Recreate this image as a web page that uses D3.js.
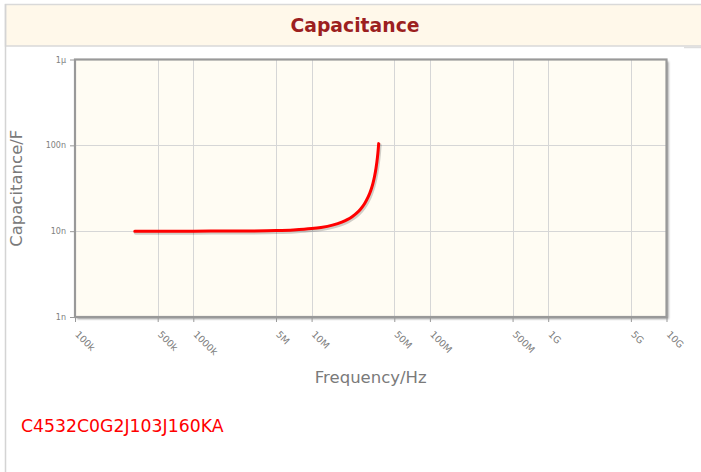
<!DOCTYPE html>
<html>
<head>
<meta charset="utf-8">
<script src="https://cdn.jsdelivr.net/npm/d3@7"></script>
<style>
  html, body { margin: 0; padding: 0; background: #fff; }
  svg { display: block; font-family: "DejaVu Sans", sans-serif; }
</style>
</head>
<body>
<svg id="chart" width="701" height="472"></svg>
<script>
// ---- data ----
const chartTitle = "Capacitance";
const partNumber = "C4532C0G2J103J160KA";
const xTitle = "Frequency/Hz";
const yTitle = "Capacitance/F";

const xTickValues = [1e5, 5e5, 1e6, 5e6, 1e7, 5e7, 1e8, 5e8, 1e9, 5e9, 1e10];
const xTickLabels = ["100k", "500k", "1000k", "5M", "10M", "50M", "100M", "500M", "1G", "5G", "10G"];
const yTickValues = [1e-9, 1e-8, 1e-7, 1e-6];
const yTickLabels = ["1n", "10n", "100n", "1µ"];

// frequency (Hz) and capacitance (F)
const freq = [3.2e5, 5e5, 1e6, 2e6, 3e6, 5e6, 7e6, 1e7, 1.2e7, 1.5e7, 1.8e7, 2.0e7, 2.2e7, 2.4e7,
              2.6e7, 2.8e7, 3.0e7, 3.1e7, 3.2e7, 3.3e7, 3.4e7, 3.5e7, 3.6e7, 3.65e7, 3.69e7];
const cap  = [10.0e-9, 10.0e-9, 10.01e-9, 10.03e-9, 10.06e-9, 10.17e-9, 10.34e-9, 10.71e-9, 11.06e-9,
              11.76e-9, 12.74e-9, 13.62e-9, 14.74e-9, 16.2e-9, 18.15e-9, 20.87e-9, 24.86e-9, 27.65e-9,
              31.27e-9, 36.15e-9, 43.08e-9, 53.68e-9, 71.89e-9, 86.96e-9, 104.7e-9];

// ---- layout ----
const svg = d3.select("#chart");
const plot = { left: 75, right: 666.5, top: 59.5, bottom: 317 };

// title band
svg.append("rect").attr("x", 5.5).attr("y", 4.5).attr("width", 700).attr("height", 41.5)
  .attr("fill", "#fff8ea").attr("stroke", "#d9d9d9").attr("stroke-width", 1.5);
svg.append("line").attr("x1", 5.5).attr("x2", 5.5).attr("y1", 4).attr("y2", 472)
  .attr("stroke", "#d4d4d4").attr("stroke-width", 1.5);
svg.append("line").attr("x1", 684).attr("x2", 701).attr("y1", 47.5).attr("y2", 47.5)
  .attr("stroke", "#dddddd").attr("stroke-width", 1.5);
svg.append("text").attr("x", 355).attr("y", 31.5).attr("text-anchor", "middle")
  .attr("font-size", 18.8).attr("font-weight", "bold").attr("fill", "#9c1f1f").text(chartTitle);

const x = d3.scaleLog().domain([1e5, 1e10]).range([plot.left, plot.right]);
const y = d3.scaleLog().domain([1e-9, 1e-6]).range([plot.bottom, plot.top]);

// defs: shadow filter
const defs = svg.append("defs");
const f = defs.append("filter").attr("id", "bshadow").attr("x", "-5%").attr("y", "-5%")
  .attr("width", "110%").attr("height", "110%");
f.append("feGaussianBlur").attr("in", "SourceAlpha").attr("stdDeviation", 1.2);
f.append("feOffset").attr("dx", 2).attr("dy", 2).attr("result", "ob");
f.append("feComponentTransfer").append("feFuncA").attr("type", "linear").attr("slope", 0.4);
const fm = f.append("feMerge");
fm.append("feMergeNode");
fm.append("feMergeNode").attr("in", "SourceGraphic");

// plot background with shadow
svg.append("rect").attr("x", plot.left).attr("y", plot.top)
  .attr("width", plot.right - plot.left).attr("height", plot.bottom - plot.top)
  .attr("fill", "#fffcf3").attr("filter", "url(#bshadow)");

// grid lines
const grid = svg.append("g");
grid.selectAll("line.vx").data(xTickValues.slice(1, -1)).enter().append("line")
  .attr("x1", d => Math.round(x(d)) + 0.5).attr("x2", d => Math.round(x(d)) + 0.5)
  .attr("y1", plot.top).attr("y2", plot.bottom)
  .attr("stroke", "#d6d6d6").attr("stroke-width", 1);
grid.selectAll("line.hy").data(yTickValues.slice(1, -1)).enter().append("line")
  .attr("y1", d => Math.round(y(d)) + 0.5).attr("y2", d => Math.round(y(d)) + 0.5)
  .attr("x1", plot.left).attr("x2", plot.right)
  .attr("stroke", "#d6d6d6").attr("stroke-width", 1);

// axes
const xAxis = d3.axisBottom(x).tickValues(xTickValues)
  .tickFormat((d, i) => xTickLabels[i]).tickSize(5).tickSizeOuter(0);
const gx = svg.append("g").attr("transform", `translate(0,${plot.bottom})`).call(xAxis);
gx.select(".domain").remove();
gx.selectAll(".tick line").attr("stroke", "#999");
gx.selectAll(".tick text")
  .attr("font-family", "DejaVu Sans, sans-serif").attr("font-size", 9.5).attr("fill", "#808080")
  .attr("text-anchor", "start").attr("dy", null).attr("y", null)
  .attr("transform", "translate(-1,18) rotate(45)");

const yAxis = d3.axisLeft(y).tickValues(yTickValues)
  .tickFormat((d, i) => yTickLabels[i]).tickSize(5).tickSizeOuter(0);
const gy = svg.append("g").attr("transform", `translate(${plot.left},0)`).call(yAxis);
gy.select(".domain").remove();
gy.selectAll(".tick line").attr("stroke", "#999");
gy.selectAll(".tick text")
  .attr("font-family", "DejaVu Sans, sans-serif").attr("font-size", 8).attr("fill", "#808080")
  .attr("x", -9);

// plot border
svg.append("rect").attr("x", plot.left).attr("y", plot.top)
  .attr("width", plot.right - plot.left).attr("height", plot.bottom - plot.top)
  .attr("fill", "none").attr("stroke", "#999").attr("stroke-width", 2.2);

// curve
const pts = freq.map((fv, i) => [fv, cap[i]]);
const line = d3.line().x(d => x(d[0])).y(d => y(d[1])).curve(d3.curveMonotoneX);
svg.append("path").attr("d", line(pts)).attr("fill", "none")
  .attr("stroke", "rgba(0,0,0,0.18)").attr("stroke-width", 4).attr("stroke-linecap", "round")
  .attr("stroke-linejoin", "round").attr("transform", "translate(1,1.5)");
svg.append("path").attr("d", line(pts)).attr("fill", "none")
  .attr("stroke", "#ff0000").attr("stroke-width", 3).attr("stroke-linecap", "round")
  .attr("stroke-linejoin", "round");

// axis titles
svg.append("text").attr("x", (plot.left + plot.right) / 2).attr("y", 383)
  .attr("text-anchor", "middle").attr("font-size", 16.5).attr("fill", "#7a7a7a").text(xTitle);
svg.append("text").attr("transform", `translate(22,${(plot.top + plot.bottom) / 2}) rotate(-90)`)
  .attr("text-anchor", "middle").attr("font-size", 16.5).attr("fill", "#7a7a7a").text(yTitle);

// part number
svg.append("text").attr("x", 21).attr("y", 432).attr("font-size", 17.3).attr("fill", "#ff0000")
  .text(partNumber);
</script>
</body>
</html>
